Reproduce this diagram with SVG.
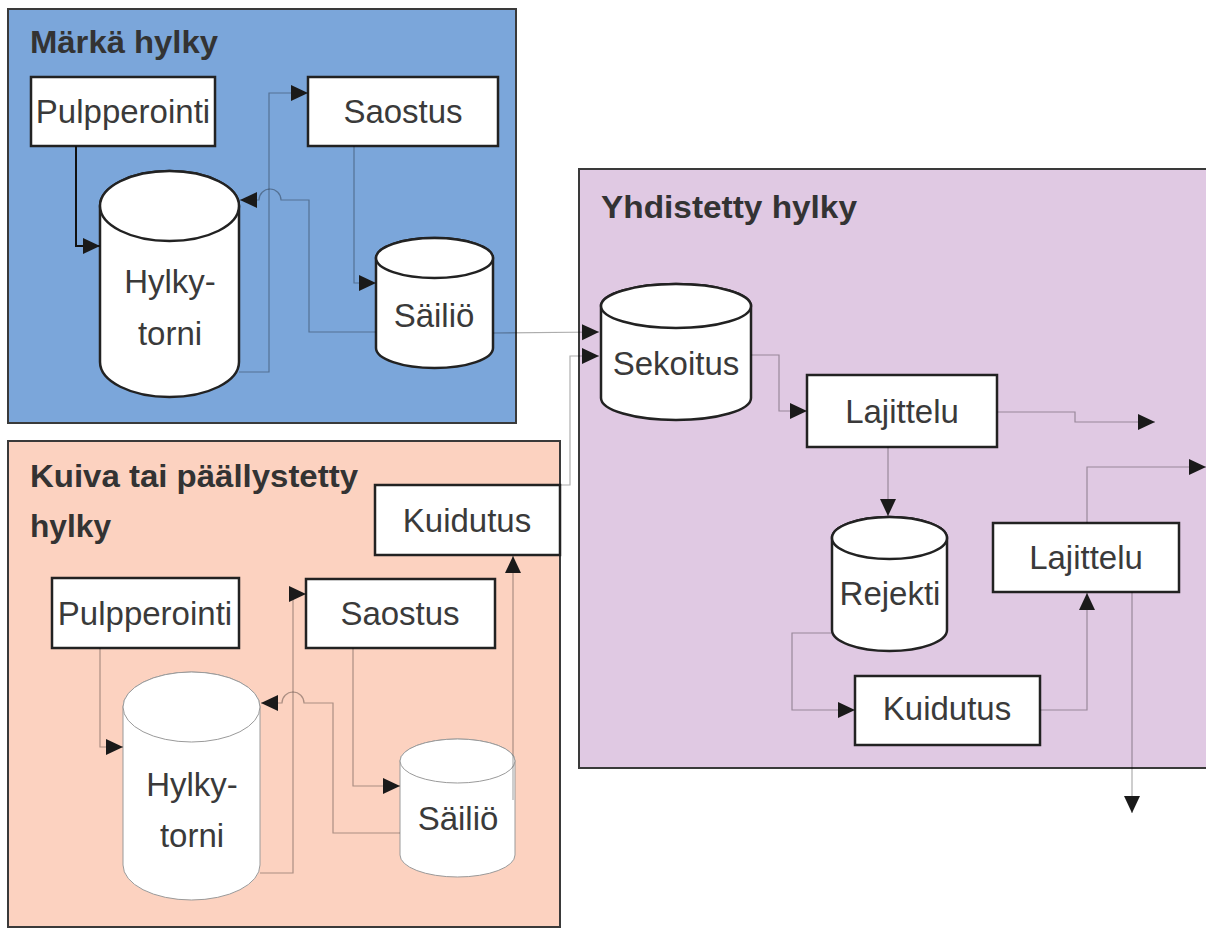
<svg xmlns="http://www.w3.org/2000/svg" width="1206" height="929" viewBox="0 0 1206 929">
<style>
.panel{stroke:#3a3a3a;stroke-width:2}
.title{font-family:"Liberation Sans",Arial,sans-serif;font-weight:bold;font-size:31px;fill:#333}
.lbl{font-family:"Liberation Sans",Arial,sans-serif;font-size:33px;fill:#3a3a3a;text-anchor:middle}
.box{fill:#fff;stroke:#222;stroke-width:2.5}
.cyl{fill:#fff;stroke:#222;stroke-width:2.5}
.cyl2{fill:#fff;stroke:#9a9a9a;stroke-width:1}
.con{fill:none;stroke:#000;stroke-opacity:0.32;stroke-width:1.2}
.conb{fill:none;stroke:#111;stroke-width:2}
</style>
<defs>
<marker id="arr" markerUnits="userSpaceOnUse" markerWidth="19" markerHeight="17" refX="17" refY="8" orient="auto">
<path d="M0,0 L17,8 L0,16 Z" fill="#1a1a1a"/>
</marker>
</defs>
<rect width="1206" height="929" fill="#fff"/>

<g id="panel-wet">
<rect class="panel" x="8" y="9" width="508" height="414" fill="#7ba6da"/>
<text class="title" x="30" y="53" textLength="188" lengthAdjust="spacingAndGlyphs">Märkä hylky</text>
</g>
<g id="panel-dry">
<rect class="panel" x="8" y="441" width="552" height="486" fill="#fcd2c0"/>
<text class="title" x="30" y="487" textLength="328" lengthAdjust="spacingAndGlyphs">Kuiva tai päällystetty</text>
<text class="title" x="30" y="537" textLength="81" lengthAdjust="spacingAndGlyphs">hylky</text>
</g>
<g id="panel-combined">
<rect class="panel" x="579" y="169" width="640" height="599" fill="#e0c9e3"/>
<text class="title" x="601" y="218" textLength="256" lengthAdjust="spacingAndGlyphs">Yhdistetty hylky</text>
</g>

<!-- wet nodes -->
<g id="wet-pulpperointi">
<rect class="box" x="31" y="77" width="184" height="69"/>
<text class="lbl" x="123" y="123">Pulpperointi</text>
</g>
<g id="wet-saostus">
<rect class="box" x="308" y="77" width="190" height="69"/>
<text class="lbl" x="403" y="123">Saostus</text>
</g>
<g id="wet-hylkytorni">
<path class="cyl" d="M100,206 L100,362 A69.5,35 0 0 0 239,362 L239,206 A69.5,35 0 0 0 100,206 Z"/>
<ellipse class="cyl" cx="169.5" cy="206" rx="69.5" ry="35"/>
<text class="lbl" x="170" y="293">Hylky-</text>
<text class="lbl" x="170" y="345">torni</text>
</g>
<g id="wet-sailio">
<path class="cyl" d="M376,258 L376,348 A58.5,20 0 0 0 493,348 L493,258 A58.5,20 0 0 0 376,258 Z"/>
<ellipse class="cyl" cx="434.5" cy="258" rx="58.5" ry="20"/>
<text class="lbl" x="434" y="327">Säiliö</text>
</g>

<!-- dry nodes -->
<g id="dry-kuidutus">
<rect class="box" x="375" y="485" width="185" height="70"/>
<text class="lbl" x="467" y="532">Kuidutus</text>
</g>
<g id="dry-pulpperointi">
<rect class="box" x="52" y="578" width="187" height="70"/>
<text class="lbl" x="145" y="625">Pulpperointi</text>
</g>
<g id="dry-saostus">
<rect class="box" x="306" y="579" width="189" height="69"/>
<text class="lbl" x="400" y="625">Saostus</text>
</g>
<g id="dry-hylkytorni">
<path class="cyl2" d="M123,707 L123,865 A68.5,35 0 0 0 260,865 L260,707 A68.5,35 0 0 0 123,707 Z"/>
<ellipse class="cyl2" cx="191.5" cy="707" rx="68.5" ry="35"/>
<text class="lbl" x="192" y="796">Hylky-</text>
<text class="lbl" x="192" y="847">torni</text>
</g>
<g id="dry-sailio">
<path class="cyl2" d="M400,761 L400,855 A57.5,22 0 0 0 515,855 L515,761 A57.5,22 0 0 0 400,761 Z"/>
<ellipse class="cyl2" cx="457.5" cy="761" rx="57.5" ry="22"/>
<text class="lbl" x="458" y="830">Säiliö</text>
</g>

<!-- combined nodes -->
<g id="sekoitus">
<path class="cyl" d="M601,306 L601,398 A75,22 0 0 0 751,398 L751,306 A75,22 0 0 0 601,306 Z"/>
<ellipse class="cyl" cx="676" cy="306" rx="75" ry="22"/>
<text class="lbl" x="676" y="375">Sekoitus</text>
</g>
<g id="lajittelu-1">
<rect class="box" x="807" y="375" width="190" height="72"/>
<text class="lbl" x="902" y="423">Lajittelu</text>
</g>
<g id="rejekti">
<path class="cyl" d="M832,538 L832,630 A57.5,21 0 0 0 947,630 L947,538 A57.5,21 0 0 0 832,538 Z"/>
<ellipse class="cyl" cx="889.5" cy="538" rx="57.5" ry="21"/>
<text class="lbl" x="890" y="605">Rejekti</text>
</g>
<g id="lajittelu-2">
<rect class="box" x="993" y="523" width="186" height="69"/>
<text class="lbl" x="1086" y="569">Lajittelu</text>
</g>
<g id="kuidutus-2">
<rect class="box" x="855" y="676" width="185" height="69"/>
<text class="lbl" x="947" y="720">Kuidutus</text>
</g>

<g id="connectors">
<path class="conb" d="M76,146 V246 H100" marker-end="url(#arr)"/>
<path class="con" d="M239,372 H269 V93 H308" marker-end="url(#arr)"/>
<path class="con" d="M354,146 V283 H376" marker-end="url(#arr)"/>
<path class="con" d="M376,332 H309 V200 H281 A11,11 0 0 0 259,200 H240" marker-end="url(#arr)"/>
<path class="con" d="M493,333 L599,332" marker-end="url(#arr)"/>
<path class="con" d="M560,485 H570 V356 H599" marker-end="url(#arr)"/>
<path class="con" d="M100,648 V747 H123" marker-end="url(#arr)"/>
<path class="con" d="M260,873 H293 V594 H306" marker-end="url(#arr)"/>
<path class="con" d="M353,648 V786 H400" marker-end="url(#arr)"/>
<path class="con" d="M400,833 H333 V703 H304 A11,11 0 0 0 282,703 H261" marker-end="url(#arr)"/>
<path class="con" d="M513,800 V556" marker-end="url(#arr)"/>
<path class="con" d="M751,355 H779 V411 H807" marker-end="url(#arr)"/>
<path class="con" d="M997,412 H1075 V422 H1155" marker-end="url(#arr)"/>
<path class="con" d="M888,447 V516" marker-end="url(#arr)"/>
<path class="con" d="M832,633 H792 V710 H855" marker-end="url(#arr)"/>
<path class="con" d="M1040,710 H1087 V593" marker-end="url(#arr)"/>
<path class="con" d="M1087,523 V467 H1206" marker-end="url(#arr)"/>
<path class="con" d="M1132,592 V813" marker-end="url(#arr)"/>
</g>
</svg>
